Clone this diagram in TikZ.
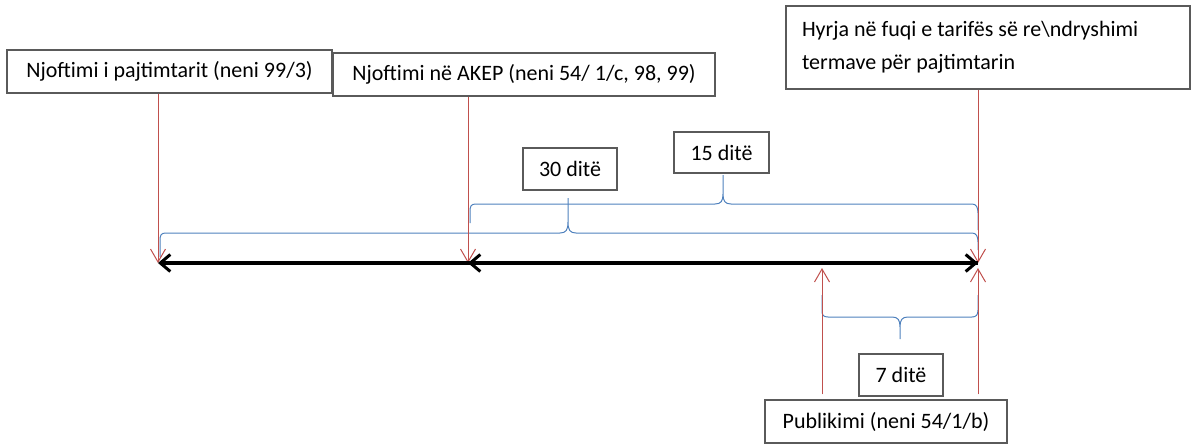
\documentclass[tikz,border=0pt]{standalone}
\usepackage{fontspec}
\setmainfont{Carlito}
\usetikzlibrary{arrows.meta}
\definecolor{redl}{RGB}{192,80,77}
\definecolor{bluel}{RGB}{79,129,189}
\definecolor{boxg}{RGB}{90,90,90}
\tikzset{
  lbox/.style={draw=boxg, line width=1.1pt, fill=white, inner sep=0pt, font=\fontsize{22}{26}\selectfont, text=black},
  redarrow/.style={draw=redl, line width=1pt, -{Straight Barb[length=13pt,width=15pt,line width=1pt]}},
  blackarrow/.style={draw=black, line width=3.5pt, {Straight Barb[length=10pt,width=17pt,line width=3pt]}-{Straight Barb[length=10pt,width=17pt,line width=3pt]}},
  blackleft/.style={draw=black, line width=3.5pt, {Straight Barb[length=10pt,width=17pt,line width=3pt]}-},
  bracel/.style={draw=bluel, line width=1pt}
}
\begin{document}
\begin{tikzpicture}[x=1pt,y=-1pt]
\useasboundingbox (0,0) rectangle (1191,444);
% boxes
\node[lbox, minimum width=325pt, minimum height=43pt] (b1) at (169.5,71.5) {Njoftimi i pajtimtarit (neni 99/3)};
\node[lbox, minimum width=382pt, minimum height=43pt] (b2) at (524,74.5) {Njoftimi në AKEP (neni 54/ 1/c, 98, 99)};
\node[lbox, text width=372pt, inner xsep=16pt, minimum height=83pt, align=flush left, font=\fontsize{22}{33}\selectfont] (b3) at (988,47.5) {Hyrja në fuqi e tarifës së re\textbackslash ndryshimi\\termave për pajtimtarin};
\node[lbox, minimum width=94pt, minimum height=42pt] (d30) at (570,169) {30 ditë};
\node[lbox, minimum width=95pt, minimum height=41pt] (d15) at (721.5,152.5) {15 ditë};
\node[lbox, minimum width=84pt, minimum height=42pt] (d7) at (901,375) {7 ditë};
\node[lbox, minimum width=242pt, minimum height=43pt] (pub) at (886,421.5) {Publikimi (neni 54/1/b)};
% timeline points
\coordinate (t1) at (158,263);
\coordinate (t2) at (468,263);
\coordinate (t3) at (978,263);
\coordinate (p1) at (822,268);
\coordinate (p2) at (978,268);
% blue braces
\draw[bracel] (160,257) -- (160,241) .. controls (160,235) and (161,233) .. (166,233)
  -- (560,233) .. controls (566,233) and (568,230) .. (568,222) -- (568,198)
  (568,222) .. controls (568,230) and (570,233) .. (576,233)
  -- (972,233) .. controls (976,233) and (978,236) .. (978,242) -- (978,250);
\draw[bracel] (470,223) -- (470,212) .. controls (470,206) and (471,204) .. (476,204)
  -- (715,204) .. controls (721,204) and (723,201) .. (723,194) -- (723,175)
  (723,194) .. controls (723,201) and (725,204) .. (731,204)
  -- (972,204) .. controls (976,204) and (978,207) .. (978,213) -- (978,230);
\draw[bracel] (822,295) -- (822,310) .. controls (822,315) and (823,317) .. (828,317)
  -- (892,317) .. controls (898,317) and (900,320) .. (900,327) -- (900,339)
  (900,327) .. controls (900,320) and (902,317) .. (908,317)
  -- (972,317) .. controls (976,317) and (978,315) .. (978,310) -- (978,295);
% red arrows
\draw[redarrow] (t1 |- b1.south) -- (t1);
\draw[redarrow] (t2 |- b2.south) -- (t2);
\draw[redarrow] (t3 |- b3.south) -- (t3);
\draw[redarrow] (p1 |- pub.north) ++(0,-5) coordinate (q1) (q1) -- (p1);
\draw[redarrow] (p2 |- pub.north) ++(0,-5) coordinate (q2) (q2) -- (p2);
% black timeline
\draw[blackarrow] (t1) -- (t3);
\draw[blackleft] (t2) -- (t3);
\end{tikzpicture}
\end{document}
